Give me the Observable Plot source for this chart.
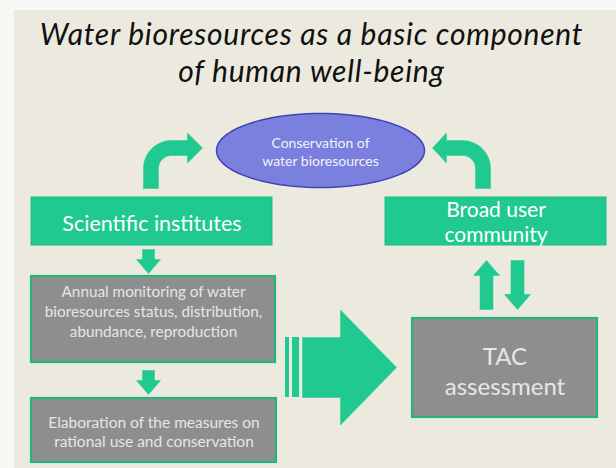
<!DOCTYPE html>
<html>
<head>
<meta charset="utf-8">
<script src="https://cdn.jsdelivr.net/npm/d3@7"></script>
<script src="https://cdn.jsdelivr.net/npm/@observablehq/plot@0.6"></script>
<style>
  html, body { margin: 0; padding: 0; background: #f7f7f3; }
  #chart svg { display: block; }
</style>
</head>
<body>
<div id="chart"></div>
<script>
// ---- content (texts) ----
const titleLines = ["Water bioresources as a basic component", "of human well-being"];
const nodeIds = ["sci", "broad", "annual", "elab", "tac"];
const nodeLabels = [
  "Scientific institutes",
  "Broad user\ncommunity",
  "Annual monitoring of water\nbioresources status, distribution,\nabundance, reproduction",
  "Elaboration of the measures on\nrational use and conservation",
  "TAC\nassessment"
];
const nodeKinds = ["green", "green", "gray", "gray", "gray"];
const goalLabel = "Conservation of\nwater bioresources";

// ---- layout (diagram coordinates, px) ----
const nodeX1 = [31, 385, 31, 31, 412];
const nodeX2 = [272, 606, 275, 276, 597];
const nodeY1 = [197, 197, 276, 398, 318];
const nodeY2 = [245, 245, 362, 462, 417];
const nodeTextY = [222, 221, 310, 431, 370];
const nodeFont = [21.5, 21, 15.3, 15.5, 24];
const nodeLine = [1.2, 1.2, 1.3, 1.25, 1.25];
const goal = {cx: 320, cy: 150, rx: 104, ry: 37};

// straight block arrows: from (x1,y1) to tip (x2,y2)
const arrows = [
  {x1: 148, y1: 249, x2: 148, y2: 273, shaft: 12, head: 24, headLen: 14},
  {x1: 148, y1: 370, x2: 148, y2: 394, shaft: 12, head: 24, headLen: 14},
  {x1: 486, y1: 309, x2: 486, y2: 260, shaft: 13, head: 26, headLen: 15},
  {x1: 517, y1: 260, x2: 517, y2: 309, shaft: 13, head: 26, headLen: 15},
  {x1: 302, y1: 367, x2: 396, y2: 367, shaft: 60, head: 115, headLen: 56}
];
const stripes = [{x1: 285, x2: 289}, {x1: 292, x2: 299}];
const stripeY = [337, 397];
// curved arrows toward the goal ellipse
const bends = [
  {x0: 143, dir: 1, bottom: 188, top: 140, w: 15, r: 28, hb: 44, tip: 59, hh: 15},
  {x0: 490, dir: -1, bottom: 188, top: 140, w: 15, r: 28, hb: 44, tip: 58, hh: 15}
];

// ---- colours ----
const GREEN = "#1fc98f", GRAY = "#8e8e8e", BEIGE = "#eceadf";

// ---- build tables ----
const nodes = nodeIds.map((id, i) => ({
  id, label: nodeLabels[i], kind: nodeKinds[i],
  x1: nodeX1[i], x2: nodeX2[i], y1: nodeY1[i], y2: nodeY2[i],
  cx: (nodeX1[i] + nodeX2[i]) / 2, cy: nodeTextY[i],
  fs: nodeFont[i], lh: nodeLine[i]
}));

function blockArrow(a, id) {
  const dx = a.x2 - a.x1, dy = a.y2 - a.y1, L = Math.hypot(dx, dy);
  const ux = dx / L, uy = dy / L, px = -uy, py = ux;
  const b = L - a.headLen;
  const loc = [[0, -a.shaft/2], [b, -a.shaft/2], [b, -a.head/2], [L, 0], [b, a.head/2], [b, a.shaft/2], [0, a.shaft/2], [0, -a.shaft/2]];
  return loc.map(([s, t]) => ({id, x: a.x1 + ux*s + px*t, y: a.y1 + uy*s + py*t}));
}
function bendArrow(b, id) {
  const pts = [];
  const cy = b.top + b.r, ri = b.r - b.w;
  pts.push([0, b.bottom]);
  for (let k = 0; k <= 16; k++) { const t = Math.PI + k/16 * Math.PI/2; pts.push([b.r + b.r*Math.cos(t), cy + b.r*Math.sin(t)]); }
  pts.push([b.hb, b.top], [b.hb, b.top + b.w/2 - b.hh], [b.tip, b.top + b.w/2], [b.hb, b.top + b.w/2 + b.hh], [b.hb, b.top + b.w], [b.r, b.top + b.w]);
  for (let k = 0; k <= 16; k++) { const t = 1.5*Math.PI - k/16 * Math.PI/2; pts.push([b.r + ri*Math.cos(t), cy + ri*Math.sin(t)]); }
  pts.push([b.w, b.bottom], [0, b.bottom]);
  return pts.map(([u, y]) => ({id, x: b.x0 + b.dir*u, y}));
}
const arrowPts = [
  ...arrows.flatMap((a, i) => blockArrow(a, "a" + i)),
  ...bends.flatMap((b, i) => bendArrow(b, "b" + i))
];
const ellipsePts = d3.range(0, 97).map(k => {
  const t = k / 96 * 2 * Math.PI;
  return {x: goal.cx + goal.rx*Math.cos(t), y: goal.cy + goal.ry*Math.sin(t)};
});

const W = 616, H = 468;
const plot = Plot.plot({
  width: W, height: H,
  margin: 0,
  x: {domain: [0, W], range: [0, W], axis: null},
  y: {domain: [0, H], range: [0, H], axis: null},
  style: {background: "#f7f7f3", fontFamily: "Lato, 'Open Sans', sans-serif"},
  marks: [
    Plot.rect([{x1: 14, x2: W, y1: 10, y2: H}], {x1: "x1", x2: "x2", y1: "y1", y2: "y2", fill: BEIGE}),
    Plot.text(titleLines, {x: 311, y: (d, i) => 35 + i*37, text: d => d, fontSize: 30, fontStyle: "italic", fill: "#111", fontFamily: "Lato, sans-serif", className: "title-text"}),
    // boxes
    Plot.rect(nodes, {x1: "x1", x2: "x2", y1: "y1", y2: "y2",
      fill: d => d.kind === "green" ? GREEN : GRAY,
      stroke: d => d.kind === "green" ? "#22b985" : "#23b47f", strokeWidth: d => d.kind === "green" ? 1 : 2.2}),
    // stripes of the big arrow
    Plot.rect(stripes, {x1: "x1", x2: "x2", y1: () => stripeY[0], y2: () => stripeY[1], fill: GREEN}),
    // arrows
    Plot.line(arrowPts, {x: "x", y: "y", z: "id", fill: GREEN, stroke: GREEN, strokeWidth: 0.5}),
    // goal ellipse
    Plot.line(ellipsePts, {x: "x", y: "y", fill: "#7b80df", stroke: "#3e44b3", strokeWidth: 1.5}),
    Plot.text([goalLabel], {x: goal.cx, y: goal.cy + 1, text: d => d, fontSize: 14, lineHeight: 1.22, fill: "#f2f2f8"}),
    // node labels
    ...nodes.map(n => Plot.text([n], {x: "cx", y: "cy", text: "label", fontSize: n.fs, lineHeight: n.lh,
      fill: n.kind === "green" ? "#ffffff" : "#e6e6e6"}))
  ]
});
d3.select(plot).selectAll(".title-text text").style("letter-spacing", "0.75px");
document.getElementById("chart").appendChild(plot);
</script>
</body>
</html>
